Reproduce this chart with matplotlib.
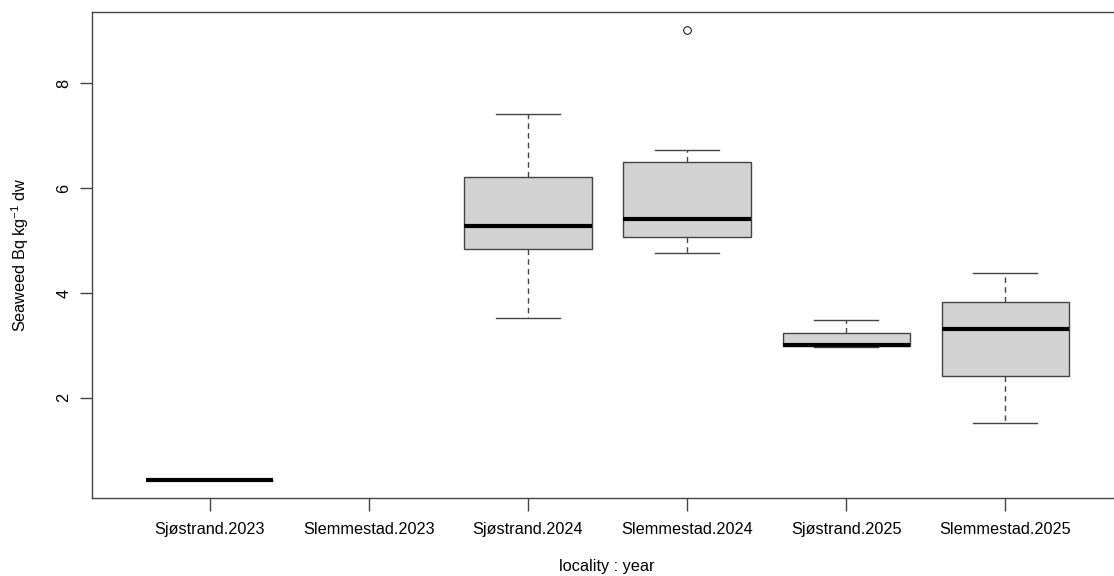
import matplotlib.pyplot as plt
import numpy as np

plt.rcParams['font.family'] = ['Liberation Sans', 'DejaVu Sans']

# groups, in plotting order (Slemmestad.2023 has no observations)
labels = ['Sjøstrand.2023', 'Slemmestad.2023', 'Sjøstrand.2024',
          'Slemmestad.2024', 'Sjøstrand.2025', 'Slemmestad.2025']
positions = [1, 3, 4, 5, 6]
whislo = [0.43, 3.52, 4.76, 2.96, 1.52]
q1 = [0.43, 4.84, 5.07, 2.98, 2.41]
med = [0.43, 5.28, 5.41, 3.00, 3.31]
q3 = [0.43, 6.22, 6.50, 3.23, 3.82]
whishi = [0.43, 7.42, 6.72, 3.48, 4.38]
fliers = [[], [], [9.02], [], []]

stats = []
for i in range(len(positions)):
    stats.append(dict(whislo=whislo[i], q1=q1[i], med=med[i], q3=q3[i],
                      whishi=whishi[i], fliers=fliers[i]))

fig = plt.figure(figsize=(11.14, 5.76), dpi=100)
ax = fig.add_axes([92 / 1114, 1 - 498 / 576, (1123 - 92) / 1114, 486 / 576])

edge = '#444444'
ax.bxp(stats, positions=positions, widths=0.8, patch_artist=True,
       boxprops=dict(facecolor='#d3d3d3', edgecolor=edge, linewidth=1),
       medianprops=dict(color='black', linewidth=3, solid_capstyle='butt'),
       whiskerprops=dict(color=edge, linewidth=1, linestyle=(0, (4, 3))),
       capprops=dict(color=edge, linewidth=1),
       flierprops=dict(marker='o', markersize=5.5, markerfacecolor='white',
                       markeredgecolor='black', markeredgewidth=0.7),
       capwidths=0.4)

ax.set_xlim(0.26, 6.74)
ax.set_ylim(0.086, 9.364)
ax.set_xticks(np.arange(1, len(labels) + 1))
ax.set_xticklabels(labels, fontsize=11.7)
ax.set_yticks([2, 4, 6, 8])
ax.set_yticklabels(['2', '4', '6', '8'], fontsize=11.7, rotation=90, va='center')
ax.tick_params(length=9, width=1, color=edge, pad=8)
ax.tick_params(axis='y', pad=6)

for s in ax.spines.values():
    s.set_color(edge)
    s.set_linewidth(1)

ax.set_ylabel(r'Seaweed Bq kg$^{\mathregular{-1}}$ dw', fontsize=11.7, labelpad=18)
fig.text(607 / 1114, 1 - 567 / 576, 'locality : year', fontsize=11.7,
         ha='center', va='center')

fig.savefig('out.png', dpi=100)
